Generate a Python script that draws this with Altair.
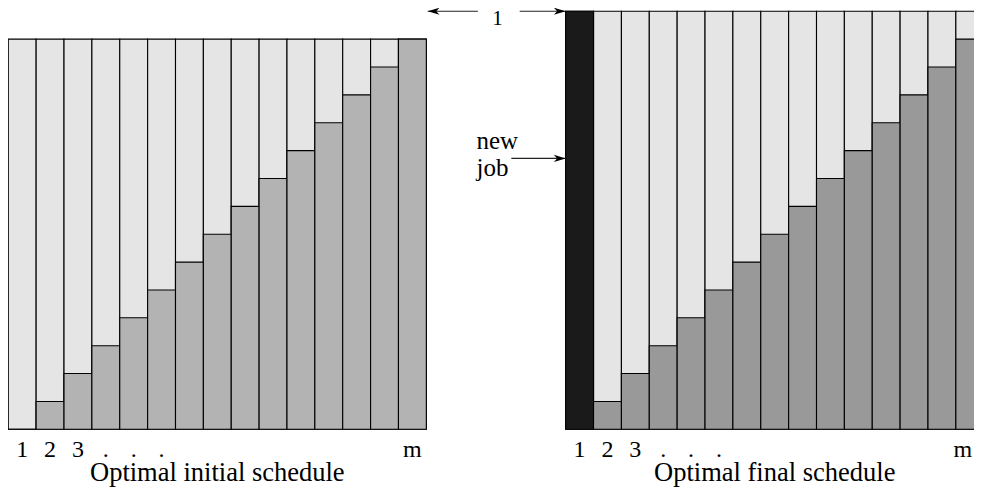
import altair as alt
import pandas as pd

# ---- data -------------------------------------------------------------
columns = list(range(1, 16))                      # machines 1..m (15 shown)
initial_load = [0, 1, 2, 3, 4, 5, 6, 7, 8, 9, 10, 11, 12, 13, 14]   # dark part, initial
final_load = [15, 1, 2, 3, 4, 5, 6, 7, 8, 9, 10, 11, 12, 13, 14]    # dark part, final (col 1 = new job)
initial_height = 14
final_height = 15
tick_labels = ["1", "2", "3", ".", ".", ".", "m"]
tick_columns = [1, 2, 3, 4, 5, 6, 15]
titles = ["Optimal initial schedule", "Optimal final schedule"]

LIGHT = "#e5e5e5"
DARK_INIT = "#b3b3b3"
DARK_FINAL = "#999999"
NEWJOB = "#1a1a1a"
FONT = "Liberation Serif"

# panel offsets in column units (layout)
offsets = [0, 20]

rows = []
for c, d in zip(columns, initial_load):
    rows.append(dict(x0=offsets[0] + c - 1, x1=offsets[0] + c, top=initial_height,
                     dark=d, dcol=DARK_INIT))
for c, d in zip(columns, final_load):
    rows.append(dict(x0=offsets[1] + c - 1, x1=offsets[1] + c, top=final_height,
                     dark=d, dcol=NEWJOB if c == 1 else DARK_FINAL))
cols = pd.DataFrame(rows)

W, H = 966, 479
UNIT = 27.87
XMAX = W / UNIT - 0.01
xs = alt.Scale(domain=[-0.01, XMAX], nice=False, zero=False)
ys = alt.Scale(domain=[-(H - 421.3) / UNIT, 421.3 / UNIT], nice=False, zero=False)
X = lambda f: alt.X(f, type="quantitative", scale=xs, axis=None)
Y = lambda f: alt.Y(f, type="quantitative", scale=ys, axis=None)

base = alt.Chart(cols).transform_calculate(zero="0")
light = base.mark_rect(fill=LIGHT, stroke="black", strokeWidth=1.1).encode(
    x=X("x0"), x2="x1", y=Y("zero"), y2="top")
dark = base.mark_rect(stroke="black", strokeWidth=1.1).encode(
    x=X("x0"), x2="x1", y=Y("zero"), y2="dark",
    fill=alt.Fill("dcol:N", scale=None))

# tick labels (kept inside the visible area)
tl = []
for off in offsets:
    for lab, c in zip(tick_labels, tick_columns):
        tl.append(dict(x=min(off + c - 0.5, XMAX - 0.4), y=-1, t=lab))
ticks = alt.Chart(pd.DataFrame(tl)).mark_text(
    font=FONT, fontSize=24, baseline="alphabetic", align="center", color="black"
).encode(x=X("x"), y=Y("y"), text="t:N")

tt = pd.DataFrame([dict(x=offsets[0] + 7.5, y=-1.86, t=titles[0]),
                   dict(x=offsets[1] + 7.5, y=-1.86, t=titles[1])])
title_marks = alt.Chart(tt).mark_text(
    font=FONT, fontSize=26.5, baseline="alphabetic", align="center", color="black"
).encode(x=X("x"), y=Y("y"), text="t:N")

# annotations
ann = pd.DataFrame([
    dict(x=17.55, y=14.52, t="1"),
    dict(x=16.8, y=10.05, t="new"),
    dict(x=16.8, y=9.1, t="job"),
])
ann1 = alt.Chart(ann.iloc[[0]]).mark_text(
    font=FONT, fontSize=21, baseline="alphabetic", align="center", color="black"
).encode(x=X("x"), y=Y("y"), text="t:N")
ann2 = alt.Chart(ann.iloc[[1, 2]]).mark_text(
    font=FONT, fontSize=25, baseline="alphabetic", align="left", color="black"
).encode(x=X("x"), y=Y("y"), text="t:N")

lines = pd.DataFrame([
    dict(x=16.85, x2=15.05, y=15),
    dict(x=18.35, x2=20.0, y=15),
    dict(x=18.05, x2=20.0, y=9.72),
])
rules = alt.Chart(lines).mark_rule(color="#222222", strokeWidth=1.1).encode(
    x=X("x"), x2="x2", y=Y("y"))

right_head = "M0,0 L-1,-0.3 L-0.72,0 L-1,0.3 Z"
left_head = "M0,0 L1,-0.3 L0.72,0 L1,0.3 Z"
heads_r = alt.Chart(lines.iloc[[1, 2]]).mark_point(
    shape=right_head, size=560, filled=True, color="black", opacity=1
).encode(x=X("x2"), y=Y("y"))
heads_l = alt.Chart(lines.iloc[[0]]).mark_point(
    shape=left_head, size=560, filled=True, color="black", opacity=1
).encode(x=X("x2"), y=Y("y"))

chart = alt.layer(light, dark, ticks, title_marks, ann1, ann2, rules, heads_r, heads_l).properties(
    width=W, height=H, padding=0, autosize=alt.AutoSizeParams(type="none")
).configure_view(stroke=None)

chart.save("out.html", embed_options={"renderer": "svg", "actions": False})
